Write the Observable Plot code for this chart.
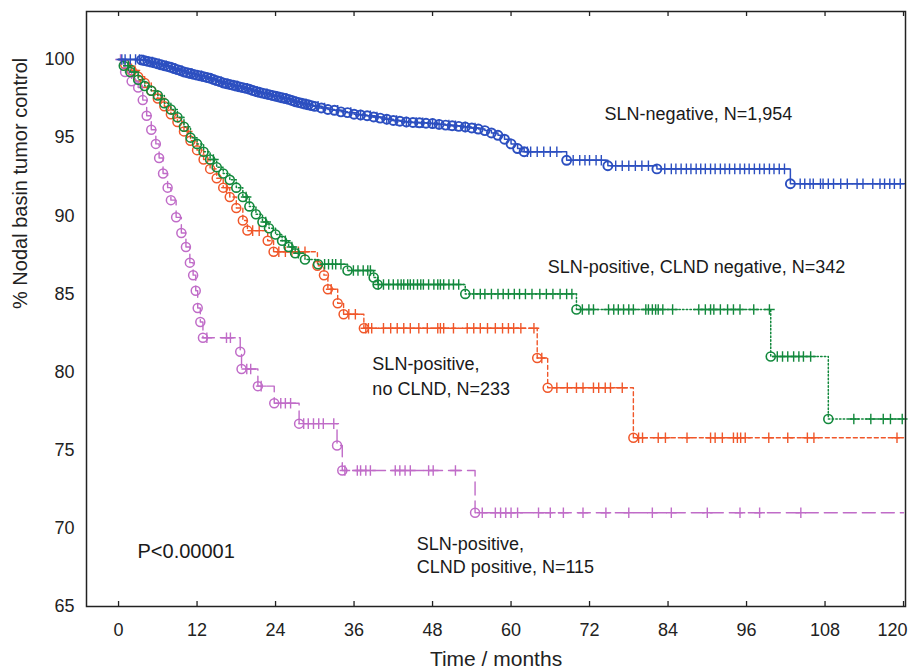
<!DOCTYPE html>
<html>
<head>
<meta charset="utf-8">
<script src="https://cdn.jsdelivr.net/npm/d3@7"></script>
<script src="https://cdn.jsdelivr.net/npm/@observablehq/plot@0.6"></script>
<style>
  html, body { margin: 0; padding: 0; background: #ffffff; }
  #chart svg { display: block; }
</style>
</head>
<body>
<div id="chart"></div>
<script>
// ---- Axis ticks ----
const monthTicks = [0, 12, 24, 36, 48, 60, 72, 84, 96, 108, 120];
const pctTicks = [65, 70, 75, 80, 85, 90, 95, 100];
const xTitle = "Time / months";
const yTitle = "% Nodal basin tumor control";

// ---- SLN-negative, N=1,954 (event times / survival after event / censor times) ----
const blueT = [0,
  3.5, 4, 4.5, 5, 5.5, 6, 6.5, 7, 7.5, 8,
  8.5, 9, 9.5, 10, 10.5, 11, 11.5, 12, 12.5, 13,
  13.5, 14, 14.5, 15, 15.5, 16, 16.5, 17, 17.5, 18,
  18.5, 19, 19.5, 20, 20.5, 21, 21.5, 22, 22.5, 23,
  23.5, 24, 24.5, 25, 25.5, 26, 26.5, 27, 27.5, 28,
  28.5, 29, 29.5, 30,
  31, 32, 33, 34, 35, 36, 37, 38, 39, 40,
  41, 42, 43, 44, 45, 46, 47, 48, 49, 50,
  51, 52, 53, 54, 55, 56, 57, 58, 59, 60,
  61, 62, 68.5, 74.8, 82.3, 102.7];
const blueS = [100,
  99.97, 99.93, 99.88, 99.83, 99.78, 99.72, 99.66, 99.6, 99.55, 99.5,
  99.42, 99.35, 99.28, 99.2, 99.15, 99.1, 99.05, 99.0, 98.95, 98.9,
  98.85, 98.8, 98.72, 98.65, 98.58, 98.5, 98.45, 98.4, 98.35, 98.3,
  98.25, 98.2, 98.15, 98.1, 98.02, 97.95, 97.9, 97.85, 97.8, 97.75,
  97.7, 97.65, 97.6, 97.55, 97.5, 97.45, 97.38, 97.3, 97.25, 97.2,
  97.15, 97.1, 97.05, 97.0,
  96.9, 96.8, 96.75, 96.65, 96.6, 96.5, 96.45, 96.4, 96.32, 96.25,
  96.18, 96.1, 96.05, 96.0, 95.97, 95.95, 95.92, 95.9, 95.85, 95.8,
  95.76, 95.72, 95.68, 95.62, 95.55, 95.45, 95.3, 95.15, 94.9, 94.6,
  94.3, 94.1, 93.55, 93.2, 93.0, 92.05];
const blueC = [0.5, 1, 1.8, 2.6, 3.2, 3.8, 5.2, 6.2, 7.3, 8.7, 9.7, 11.2, 12.7, 14.2, 15.7, 16.7, 18.2, 19.7, 21.2, 22.7, 24.2, 25.7, 27.2, 28.7, 30.5, 31.5, 33.5, 35.5, 37, 38.5, 39.5, 41, 42.5, 44, 45.5, 46.5, 48, 49, 50.5, 51.5, 53, 54.5, 62.5, 63, 64, 65, 66, 67, 69.5, 70.5, 71.3, 72, 73, 73.8, 76, 77, 78, 79, 80, 81, 83.5, 84.5, 85.2, 86, 86.8, 87.5, 88.3, 89, 89.7, 90.5, 91.2, 92, 92.7, 93.4, 94.2, 95, 95.7, 96.4, 97.2, 98, 98.7, 99.5, 100.2, 101, 101.8, 104.2, 104.9, 105.7, 106.2, 107.3, 107.7, 108.5, 109.3, 110.4, 111.4, 112.9, 113.8, 115.3, 116.4, 117.1, 117.9, 118.6, 119.5];

// ---- SLN-positive, CLND negative, N=342 ----
const greenT = [0, 0.8, 1.8, 3, 4, 5, 6, 7, 8, 9, 10, 11, 12, 13, 14, 15, 16, 17, 18, 19, 20, 21, 22, 23, 24, 25, 26, 27, 28.5, 30.5, 35, 39, 39.6, 53, 70, 99.7, 108.5];
const greenS = [100, 99.6, 99.2, 98.7, 98.3, 98.0, 97.7, 97.2, 96.8, 96.3, 95.7, 95.0, 94.6, 94.1, 93.6, 93.1, 92.7, 92.3, 91.8, 91.2, 90.6, 90.1, 89.6, 89.2, 88.8, 88.4, 88.0, 87.6, 87.2, 86.9, 86.5, 86.05, 85.6, 85.0, 84.0, 81.0, 77.0];
const greenC = [1.5, 2.4, 14.5, 19.5, 22.5, 25.5, 26.5, 27.5, 31.5, 32.1, 32.7, 33.2, 34, 35.9, 36.6, 37.4, 38.1, 38.5, 39.7, 40.5, 41.3, 42.0, 42.7, 43.2, 43.6, 44.2, 44.6, 45.1, 45.7, 46.2, 46.6, 47.4, 48.2, 48.8, 49.2, 49.7, 50.5, 51.2, 52.0, 54.3, 55.3, 56, 57, 58, 58.8, 59.6, 60.5, 61.3, 62.2, 63.2, 64.4, 65.4, 66.4, 67.5, 68.5, 69.3, 70.9, 71.9, 72.6, 74.9, 75.7, 76.4, 77.2, 78.0, 78.7, 80.6, 81.0, 81.6, 82.1, 82.5, 83.2, 84.7, 88.7, 89.7, 90.5, 91.0, 92.0, 93.1, 94.0, 95.0, 97.1, 99.5, 100.7, 101.5, 102.3, 103.2, 104.0, 104.7, 105.8, 112.4, 115.0, 116.9, 118.0, 119.8];

// ---- SLN-positive, no CLND, N=233 ----
const orangeT = [0, 1, 2, 3, 4, 5, 6, 7, 8, 9, 10, 11, 12, 13, 14, 15, 16, 17, 18, 19, 19.7, 22.8, 23.7, 30.4, 31.4, 32, 33.5, 34.4, 37.5, 64, 65.6, 78.7];
const orangeS = [100, 99.7, 99.3, 98.9, 98.5, 98.0, 97.5, 97.0, 96.5, 96.0, 95.4, 94.8, 94.2, 93.6, 93.0, 92.4, 91.8, 91.2, 90.5, 89.7, 89.05, 88.4, 87.7, 86.8, 86.2, 85.3, 84.4, 83.7, 82.8, 80.9, 79.0, 75.8];
const orangeC = [2.5, 6.5, 10.5, 16.5, 20.5, 21.5, 24.5, 25.5, 26.5, 27.5, 28.5, 32.5, 35.2, 36.2, 37.8, 38.2, 38.7, 40.5, 41.6, 42.6, 43.6, 44.6, 45.9, 47.2, 48.8, 49.2, 49.7, 51.2, 53.3, 54.3, 55.3, 56.4, 57.6, 58.7, 59.6, 60.4, 61.5, 63.5, 64.7, 67, 68.6, 70, 71, 72.6, 73.4, 74.4, 75.2, 77, 79.5, 80.1, 82.5, 83.6, 86.9, 90.5, 91.2, 92.3, 94, 94.6, 95.1, 95.8, 99.4, 102.3, 105.3, 106.3, 119];

// ---- SLN-positive, CLND positive, N=115 ----
const purpleT = [0, 1, 2, 3, 3.7, 4.3, 5, 5.7, 6.2, 6.8, 7.5, 8, 8.8, 9.6, 10.3, 10.9, 11.4, 11.8, 12.1, 12.5, 12.9, 18.6, 18.8, 21.3, 23.8, 27.6, 33.4, 34.2, 54.5];
const purpleS = [100, 99.2, 98.6, 98.2, 97.4, 96.4, 95.5, 94.6, 93.7, 92.7, 91.8, 91.0, 89.9, 88.9, 88.0, 87.0, 86.2, 85.2, 84.1, 83.2, 82.2, 81.3, 80.2, 79.1, 78.0, 76.7, 75.3, 73.7, 71.0];
const purpleC = [0.3, 13.5, 16.5, 17.1, 19.6, 20.2, 21.8, 24.8, 25.5, 26.3, 28.3, 29, 29.8, 30.6, 31.3, 32.9, 34.6, 36.5, 37, 37.8, 38.5, 42.3, 43, 43.8, 44.6, 47.4, 48.1, 51.5, 55.6, 57.6, 58.4, 59.2, 60, 61, 64.2, 66, 68, 71, 74.5, 78, 81.6, 84.5, 90, 95, 98, 104.3];

// ---- Annotations ----
const labelText = ["SLN-negative, N=1,954", "SLN-positive, CLND negative, N=342", "SLN-positive,", "no CLND, N=233", "SLN-positive,", "CLND positive, N=115"];
const labelMonth = [74.3, 65.6, 38.8, 38.8, 45.6, 45.6];
const labelPct = [96.5, 86.7, 80.5, 78.9, 69.0, 67.5];
const pText = "P<0.00001";
const pMonth = 2.9;
const pPct = 68.5;

const endMonth = 120;

// ---- build tables ----
const series = [
  {T: orangeT, S: orangeS, C: orangeC, color: "#f0572a", dash: "4,3", w: 1.4, cw: 1.5},
  {T: purpleT, S: purpleS, C: purpleC, color: "#c06cc8", dash: "13,6", w: 1.4, cw: 1.5},
  {T: greenT, S: greenS, C: greenC, color: "#13893d", dash: "1.5,2.2", w: 1.5, cw: 1.6},
  {T: blueT, S: blueS, C: blueC, color: "#2c4fc0", dash: null, w: 1.5, cw: 1.9}
];
function survAt(T, S, t) {
  let s = S[0];
  for (let i = 0; i < T.length; i++) if (T[i] <= t) s = S[i];
  return s;
}

const marks = [];
for (const sr of series) {
  const steps = sr.T.map((t, i) => ({t, s: sr.S[i]}));
  steps.push({t: endMonth, s: sr.S[sr.S.length - 1]});
  const events = sr.T.slice(1).map((t, i) => ({t, s: sr.S[i + 1]}));
  const cens = sr.C.map(t => ({t, s: survAt(sr.T, sr.S, t)}));
  marks.push(Plot.line(steps, {x: "t", y: "s", curve: "step-after", stroke: sr.color, strokeWidth: sr.w, strokeDasharray: sr.dash}));
  marks.push(Plot.dot(cens, {x: "t", y: "s", symbol: "plus", r: 3.5, stroke: sr.color, strokeWidth: 1.4}));
  marks.push(Plot.dot(events, {x: "t", y: "s", r: 4.5, stroke: sr.color, strokeWidth: sr.cw, fill: "none"}));
}

const labels = labelText.map((text, i) => ({text, x: labelMonth[i], y: labelPct[i]}));
const innerTicks = monthTicks.slice(0, -1);
const lastTick = monthTicks.slice(-1);

const chart = Plot.plot({
  width: 908,
  height: 672,
  marginLeft: 86,
  marginRight: 3,
  marginTop: 11,
  marginBottom: 66,
  style: {fontFamily: "'Liberation Sans', Arial, sans-serif", background: "#ffffff", color: "#222"},
  x: {domain: [-4.9, 120.3]},
  y: {domain: [65, 103.07]},
  marks: [
    Plot.axisX(innerTicks, {anchor: "bottom", tickSize: 0, tickPadding: 17, fontSize: 18, label: null, tickFormat: d => String(d)}),
    Plot.axisX(lastTick, {anchor: "bottom", tickSize: 0, tickPadding: 17, fontSize: 18, label: null, textAnchor: "end", dx: 4, tickFormat: d => String(d)}),
    Plot.axisY(pctTicks, {anchor: "left", tickSize: 0, tickPadding: 12, fontSize: 18, label: null, tickFormat: d => String(d)}),
    Plot.text([xTitle], {frameAnchor: "bottom", text: d => d, dy: 59, fontSize: 21, fill: "#222"}),
    Plot.text([yTitle], {frameAnchor: "left", text: d => d, rotate: -90, dx: -66, fontSize: 20, fill: "#222"}),
    Plot.tickX(monthTicks, {x: d => d, insetTop: 590, stroke: "#222", strokeWidth: 1.3}),
    Plot.tickX(monthTicks, {x: d => d, insetBottom: 590, stroke: "#222", strokeWidth: 1.3}),
    ...marks,
    Plot.text(labels, {x: "x", y: "y", text: "text", textAnchor: "start", fontSize: 18, fill: "#1a1a1a"}),
    Plot.text([pText], {x: () => pMonth, y: () => pPct, text: d => d, textAnchor: "start", fontSize: 20, fill: "#1a1a1a"}),
    Plot.frame({stroke: "#222", strokeWidth: 1.5})
  ]
});
document.getElementById("chart").appendChild(chart);
</script>
</body>
</html>
